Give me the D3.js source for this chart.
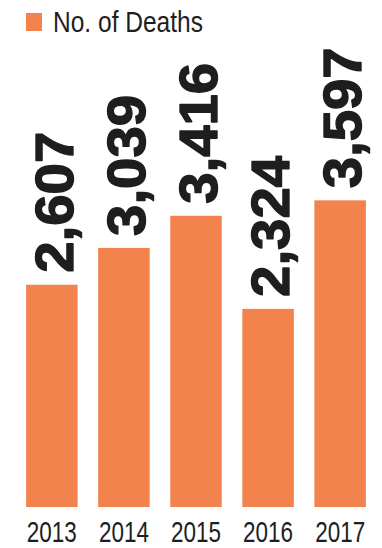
<!DOCTYPE html>
<html>
<head>
<meta charset="utf-8">
<script src="https://cdn.jsdelivr.net/npm/d3@7"></script>
<style>
  html, body { margin: 0; padding: 0; background: #fff; }
  svg { display: block; }
</style>
</head>
<body>
<div id="chart"></div>
<script>
// Annual number of deaths, 2013–2017
const years = ["2013", "2014", "2015", "2016", "2017"];
const deaths = [2607, 3039, 3416, 2324, 3597];
const seriesName = "No. of Deaths";

const W = 382, H = 548;
const barColor = "#F2834D";
const inkColor = "#1e1e1e";

const svg = d3.select("#chart").append("svg")
  .attr("width", W).attr("height", H);

const x = d3.scaleBand()
  .domain(years)
  .range([16, 376])
  .paddingInner(0.285)
  .paddingOuter(0.14);

const y = d3.scaleLinear()
  .domain([0, 4000])
  .range([507, 166]);

// Bars
svg.append("g").selectAll("rect")
  .data(years.map((yr, i) => ({ yr, v: deaths[i] })))
  .join("rect")
  .attr("x", d => x(d.yr))
  .attr("width", x.bandwidth())
  .attr("y", d => y(d.v))
  .attr("height", d => y(0) - y(d.v))
  .attr("fill", barColor);

// Rotated value labels above each bar
const fmt = d3.format(",");
svg.append("g").selectAll("text")
  .data(years.map((yr, i) => ({ yr, v: deaths[i] })))
  .join("text")
  .attr("transform", d => `translate(${x(d.yr) + x.bandwidth() / 2 + 21},${y(d.v) - 12}) rotate(-90)`)
  .attr("text-anchor", "start")
  .attr("font-family", "Liberation Sans, Arial, sans-serif")
  .attr("font-weight", "bold")
  .attr("font-size", 53)
  .attr("textLength", 141)
  .attr("lengthAdjust", "spacingAndGlyphs")
  .attr("fill", inkColor)
  .attr("stroke", inkColor)
  .attr("stroke-width", 1.4)
  .attr("stroke-linejoin", "round")
  .text(d => fmt(d.v));

// Year axis (labels only, no domain line or ticks)
const xAxis = svg.append("g")
  .attr("transform", `translate(0,${y(0)})`)
  .call(d3.axisBottom(x).tickSize(0).tickPadding(0));
xAxis.select(".domain").remove();
xAxis.selectAll("text")
  .attr("y", 35)
  .attr("dy", 0)
  .attr("font-family", "Liberation Sans, Arial, sans-serif")
  .attr("font-size", 30)
  .attr("textLength", 50)
  .attr("lengthAdjust", "spacingAndGlyphs")
  .attr("fill", inkColor);

// Legend
const legend = svg.append("g").attr("transform", "translate(26,13)");
legend.append("rect")
  .attr("width", 16).attr("height", 18)
  .attr("fill", barColor);
legend.append("text")
  .attr("x", 27).attr("y", 19)
  .attr("font-family", "Liberation Sans, Arial, sans-serif")
  .attr("font-size", 29)
  .attr("textLength", 150)
  .attr("lengthAdjust", "spacingAndGlyphs")
  .attr("fill", inkColor)
  .text(seriesName);
</script>
</body>
</html>
